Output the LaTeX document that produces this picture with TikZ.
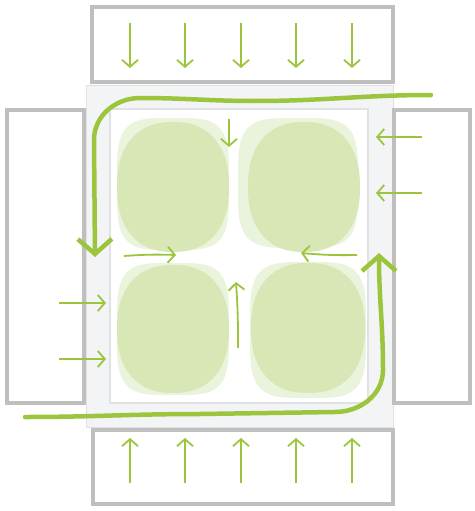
\documentclass[tikz,border=0pt]{standalone}
\usetikzlibrary{arrows.meta}
\definecolor{hvgreen}{HTML}{9BC53D}
\definecolor{hvleaf}{HTML}{D9E7B7}
\definecolor{hvleaflt}{HTML}{EAF3DC}
\definecolor{hvgray}{HTML}{BFBFBF}
\definecolor{hvpanel}{HTML}{F3F4F6}
\definecolor{hvedge}{HTML}{E0E1E3}
\tikzset{
  hvbox/.style={draw=hvgray, line width=4pt, fill=white},
  hvthin/.style={-{Straight Barb[length=7pt,width=16pt]}, draw=hvgreen, line width=1.8pt},
  hvflow/.style={-{Straight Barb[length=15pt,width=34pt]}, draw=hvgreen, line width=4.5pt, line cap=round},
}
% cell: colour, centre x, centre y, half width, half height, squareness
\newcommand{\hvcell}[6]{%
  \fill[#1] plot[domain=1:361, samples=73, smooth cycle]
    ({#2+#4*cos(\x)*abs(cos(\x))^(-#6)}, {#3+#5*sin(\x)*abs(sin(\x))^(-#6)});}
\begin{document}
\begin{tikzpicture}[x=1pt, y=-1pt]
  \useasboundingbox (0,0) rectangle (474,511);
  % panel and work area
  \draw[draw=hvedge, fill=hvpanel, line width=1pt] (86,85) rectangle (393,427);
  \draw[draw=hvedge, fill=white, line width=1.5pt] (110,109) rectangle (368,403);
  % side units
  \draw[hvbox] (92,7) rectangle (393,82);
  \draw[hvbox] (93,430) rectangle (393,504);
  \draw[hvbox] (7,110) rectangle (84,403);
  \draw[hvbox] (394,110) rectangle (470,403);
  % cells
  \hvcell{hvleaflt}{173}{184}{56}{66}{0.5}
  \hvcell{hvleaf}{173}{187}{56}{65}{0.14}
  \hvcell{hvleaflt}{298}{183}{60}{65}{0.5}
  \hvcell{hvleaf}{304}{187}{56}{65}{0.14}
  \hvcell{hvleaflt}{173}{329}{56}{66}{0.5}
  \hvcell{hvleaf}{173}{329}{56}{64}{0.14}
  \hvcell{hvleaflt}{308}{330}{58}{68}{0.5}
  \hvcell{hvleaf}{308}{328}{57}{65}{0.14}
  % supply from top and bottom
  \foreach \px in {130,185,241,296,352} {
    \draw[hvthin] (\px,23) -- (\px,68);
    \draw[hvthin] (\px,483) -- (\px,438);
  }
  % supply from sides
  \foreach \py in {303,359} \draw[hvthin] (59,\py) -- (106,\py);
  \foreach \py in {137,193} \draw[hvthin] (422,\py) -- (376,\py);
  % inner circulation
  \draw[hvthin] (229,119) -- (229,147);
  \draw[hvthin] (124,256) to[bend left=3] (176,255);
  \draw[hvthin] (357,255) to[bend left=3] (301,253);
  \draw[hvthin] (238,348) to[bend right=2] (236,282);
  % main loop
  \draw[hvflow] (431,95) to[out=180,in=0] (255,101) to[out=180,in=0] (140,98)
    to[out=180,in=90] (94,140) -- (95,257);
  \draw[hvflow] (25,417) to[out=0,in=180] (200,414) -- (335,412)
    to[out=0,in=-90] (383,370) to[out=90,in=-90] (379,253);
\end{tikzpicture}
\end{document}
